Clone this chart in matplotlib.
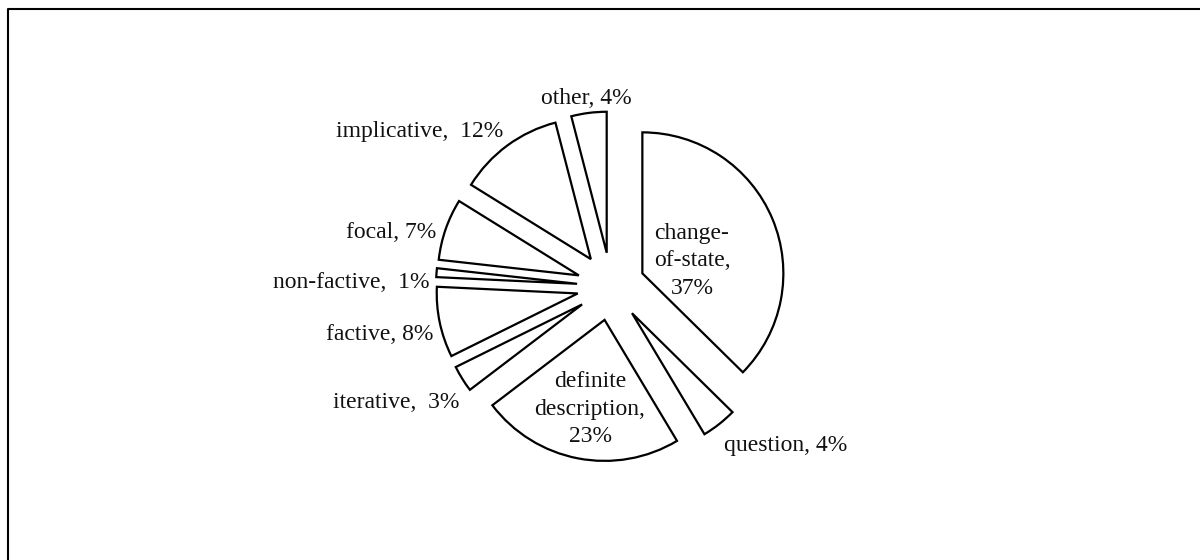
import matplotlib
matplotlib.use("Agg")
import matplotlib.pyplot as plt
from matplotlib.lines import Line2D

plt.rcParams['font.family'] = ['Liberation Serif', 'DejaVu Serif']

# Slices, clockwise from 12 o'clock
categories = ["change-of-state", "question", "definite description", "iterative",
              "factive", "non-factive", "focal", "implicative", "other"]
shares = [37, 4, 23, 3, 8, 1, 7, 12, 4]
label_texts = ["change-\nof-state,\n37%", "question, 4%", "definite\ndescription,\n23%",
               "iterative,  3%", "factive, 8%", "non-factive,  1%", "focal, 7%",
               "implicative,  12%", "other, 4%"]

# Label anchors in pixel-like axes units (y measured upward)
label_pos = [(692, 299), (786, 115), (590, 151), (396, 157), (380, 225),
             (351, 278), (391, 327), (420, 428), (586, 462)]

W, H = 1200, 560
fig = plt.figure(figsize=(12, 5.6), dpi=100)
ax = fig.add_axes([0, 0, 1, 1])
ax.set_xlim(0, W)
ax.set_ylim(0, H)
ax.set_aspect('equal')
ax.axis('off')

ax.pie(shares, center=(611, 273.5), radius=141, startangle=90, counterclock=False,
       explode=[34] * len(shares),
       wedgeprops=dict(facecolor='white', edgecolor='black', linewidth=1.6),
       frame=False)
ax.set_xlim(0, W)
ax.set_ylim(0, H)

for txt, (x, y) in zip(label_texts, label_pos):
    ax.text(x, y, txt, ha='center', va='center', fontsize=17,
            linespacing=1.4, color='#111111')

# frame lines along the left and top edges
x0 = 7.5 / W
y1 = 1 - 8.5 / H
fig.add_artist(Line2D([x0, x0, 1], [0, y1, y1], transform=fig.transFigure,
                      color='black', linewidth=1.5))

fig.savefig("out.png", dpi=100)
